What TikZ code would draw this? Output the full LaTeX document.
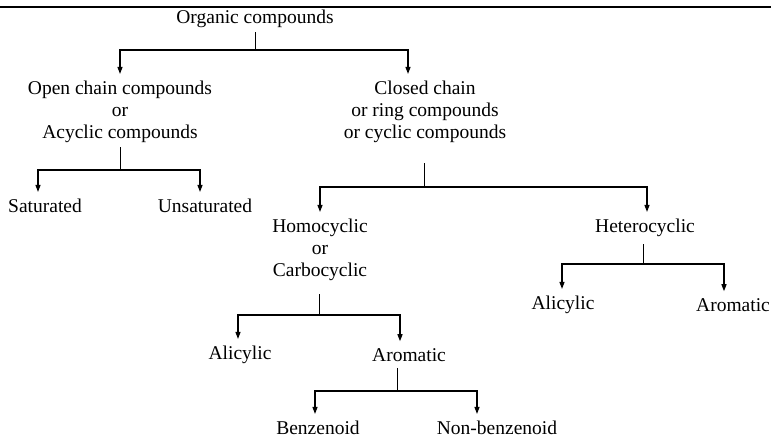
\documentclass[tikz,border=0pt]{standalone}
\usepackage{fontspec}
\setmainfont{Liberation Serif}
\usetikzlibrary{arrows.meta,positioning}
\tikzset{
  term/.style={align=center,inner sep=2pt,font=\fontsize{19.5}{22}\selectfont},
  flow/.style={-{Triangle[length=7pt,width=5pt]},line width=1.2pt,shorten >=5pt},
  stem/.style={line width=1pt},
  topline/.style={line width=2.5pt}
}

\begin{document}
\begin{tikzpicture}[x=1pt,y=-1pt]
  \useasboundingbox (0,0) rectangle (771,438);
  \draw[topline] (0,7) -- (771,7);

  % classes
  \node[term] (org) at (255,19) {Organic compounds};
  \node[term] (openc) at (120,112) {Open chain compounds\\or\\Acyclic compounds};
  \node[term] (closedc) at (425,112) {Closed chain\\or ring compounds\\or cyclic compounds};
  \node[term] (sat) at (45,206) {Saturated};
  \node[term] (unsat) at (205,206) {Unsaturated};
  \node[term] (homo) at (320,250) {Homocyclic\\or\\Carbocyclic};
  \node[term] (hetero) at (645,228) {Heterocyclic};
  \node[term] (ali) at (240,355) {Alicylic};
  \node[term] (aro) at (409,355) {Aromatic};
  \node[term] (benz) at (318,428) {Benzenoid};
  \node[term] (nonbenz) at (497,428) {Non-benzenoid};
  \node[term] (hali) at (563,305) {Alicylic};
  \node[term] (haro) at (733,305) {Aromatic};

  % branch points
  \coordinate (j0) at (255,50);
  \coordinate (j1) at (120,170);
  \coordinate (j2) at (424,187);
  \coordinate (j3) at (319,315);
  \coordinate (j4) at (397,391);
  \coordinate (j5) at (643,264);

  \draw[stem] ([yshift=-2pt]org.south -| j0) -- (j0);
  \draw[flow] (j0) -| (openc.north);
  \draw[flow] (j0) -| ([xshift=-17pt]closedc.north);

  \draw[stem] ([yshift=-2pt]openc.south -| j1) -- (j1);
  \draw[flow] (j1) -| ([xshift=-7pt]sat.north);
  \draw[flow] (j1) -| ([xshift=-5pt]unsat.north);

  \draw[stem] ([yshift=-18pt]closedc.south -| j2) -- (j2);
  \draw[flow] (j2) -| (homo.north);
  \draw[flow] (j2) -| ([xshift=2pt]hetero.north);

  \draw[stem] ([yshift=-11pt]homo.south -| j3) -- (j3);
  \draw[flow] (j3) -| ([xshift=-2pt]ali.north);
  \draw[flow] (j3) -| ([xshift=-9pt]aro.north);

  \draw[stem] ([yshift=-4pt]aro.south -| j4) -- (j4);
  \draw[flow] (j4) -| ([xshift=-3pt]benz.north);
  \draw[flow] (j4) -| ([xshift=-20pt]nonbenz.north);

  \draw[stem] ([yshift=-5pt]hetero.south -| j5) -- (j5);
  \draw[flow] (j5) -| ([xshift=-1pt]hali.north);
  \draw[flow] (j5) -| ([xshift=-9pt]haro.north);
\end{tikzpicture}
\end{document}
